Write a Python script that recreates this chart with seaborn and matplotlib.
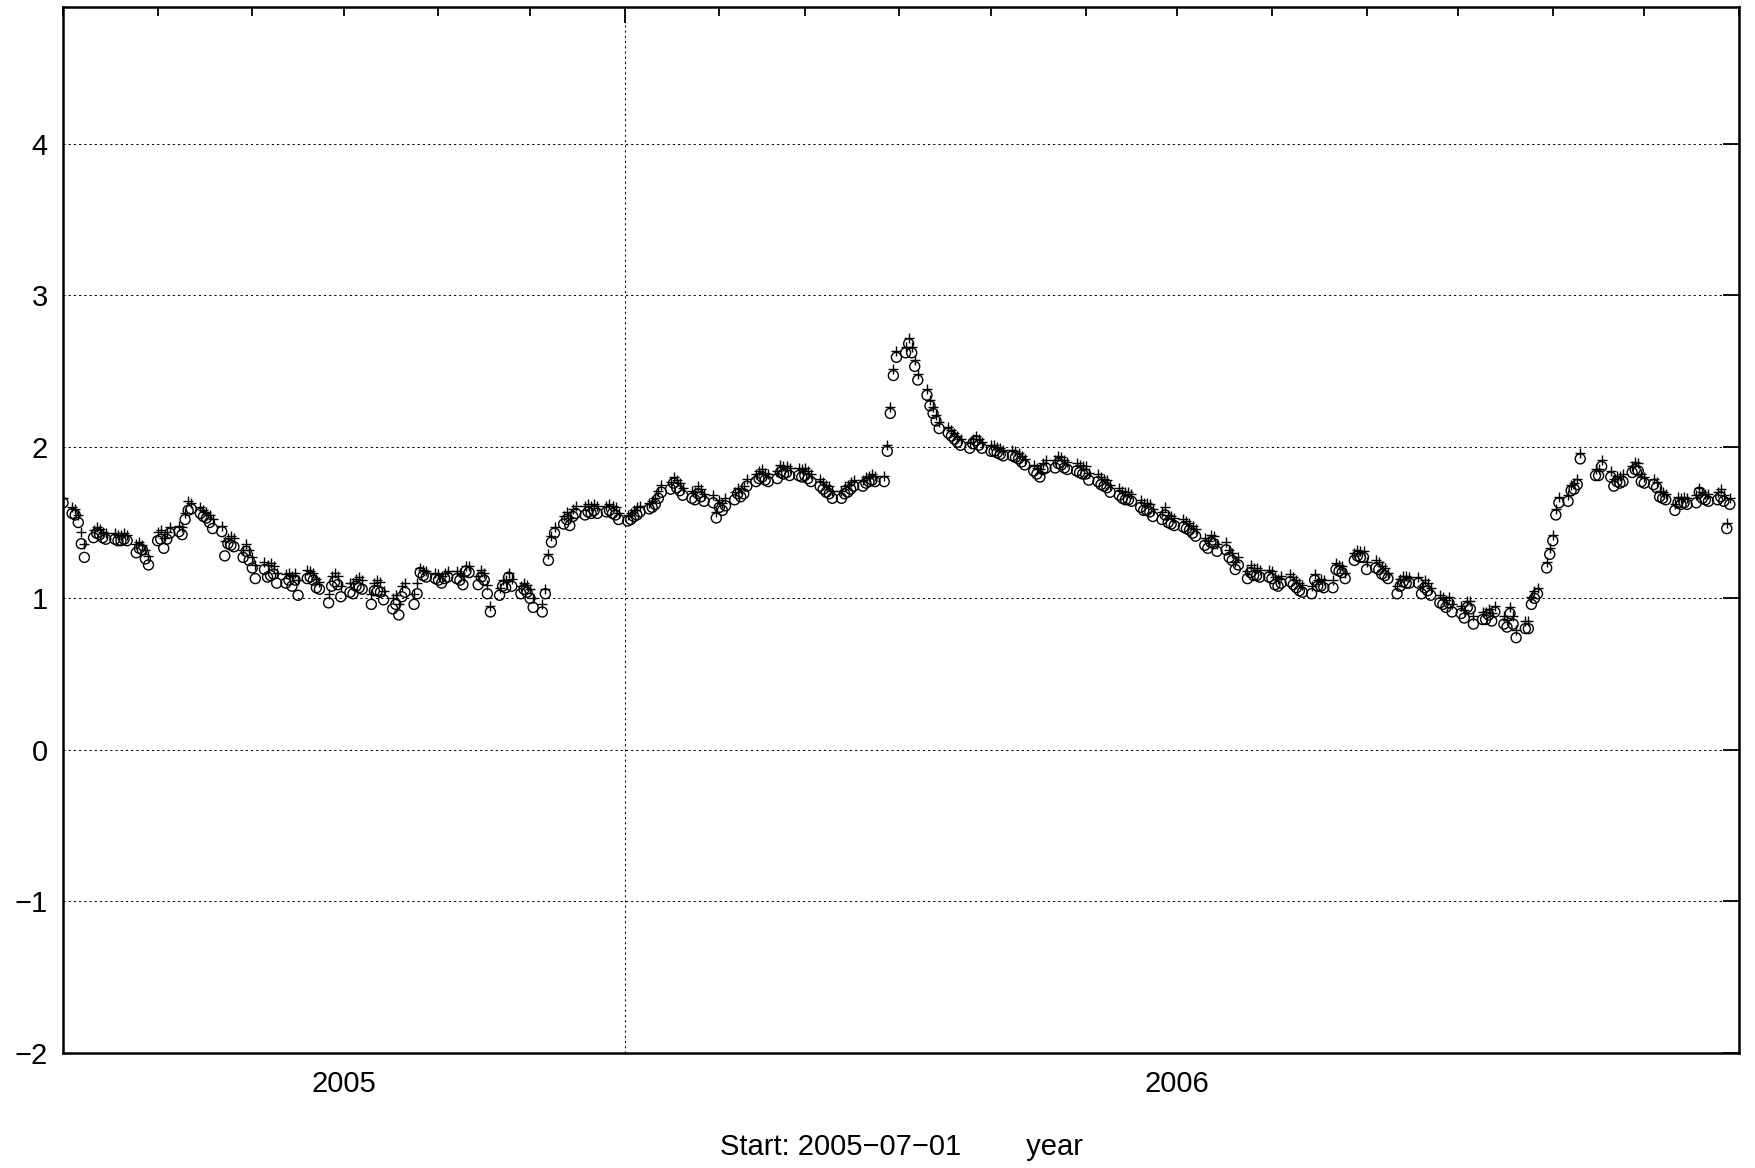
import numpy as np
import pandas as pd
import matplotlib
matplotlib.use("Agg")
import matplotlib.pyplot as plt
import matplotlib.dates as mdates
from matplotlib.ticker import FixedLocator, FuncFormatter, NullFormatter
import seaborn as sns

# ---------------- data ----------------
start_date = "2005-07-01"
end_date = "2006-12-29"
x_start = "2005-07-01"
x_end = "2007-01-01"
year_boundary = "2006-01-01"
year_labels = ["2005", "2006"]
year_label_dates = ["2005-10-01", "2006-07-01"]
y_ticks = [-2, -1, 0, 1, 2, 3, 4]
y_limits = (-2, 4.9)
xlabel_text = "Start: 2005\u221207\u221201        year"

nan = np.nan
# one business-day value per entry (first entry: Fri 2005-07-01, then Mon..Fri per row)
circle_values = [
    1.63,
    1.56, 1.55, 1.50, 1.36, 1.27,
    1.40, 1.43, 1.42, 1.40, 1.39,
    1.39, 1.38, 1.38, 1.39, 1.38,
    1.30, 1.33, 1.32, 1.26, 1.22,
    1.38, 1.39, 1.33, 1.39, 1.43,
    1.44, 1.42, 1.52, 1.58, 1.59,
    1.56, 1.54, 1.53, 1.50, 1.46,
    1.44, 1.28, 1.36, 1.35, 1.34,
    1.27, 1.31, 1.25, 1.20, 1.13,
    1.19, 1.14, 1.15, 1.16, 1.10,
    1.10, 1.12, 1.08, 1.12, 1.02,
    1.13, 1.14, 1.12, 1.07, 1.06,
    0.97, 1.08, 1.11, 1.09, 1.01,
    1.04, 1.03, 1.08, 1.07, 1.06,
    0.96, 1.05, 1.05, 1.04, 0.99,
    0.93, 0.96, 0.89, 1.01, 1.04,
    0.96, 1.03, 1.17, 1.15, 1.14,
    1.13, 1.12, 1.10, 1.13, 1.14,
    1.13, 1.12, 1.09, 1.18, 1.17,
    1.09, 1.14, 1.12, 1.03, 0.91,
    1.02, 1.08, 1.07, 1.14, 1.08,
    1.03, 1.06, 1.04, 1.00, 0.94,
    0.91, 1.03, 1.25, 1.37, 1.43,
    1.49, 1.52, 1.48, 1.54, 1.56,
    1.55, 1.57, 1.56, 1.58, 1.56,
    1.57, 1.58, 1.56, 1.55, 1.52,
    1.51, 1.52, 1.54, 1.55, 1.57,
    1.59, 1.60, 1.62, 1.66, 1.70,
    1.72, 1.76, 1.73, 1.71, 1.68,
    1.66, 1.65, 1.69, 1.67, 1.64,
    1.63, 1.53, 1.60, 1.58, 1.61,
    1.65, 1.69, 1.67, 1.69, 1.74,
    1.77, 1.79, 1.80, 1.78, 1.77,
    1.79, 1.83, 1.82, 1.83, 1.81,
    1.81, 1.80, 1.81, 1.79, 1.77,
    1.74, 1.72, 1.70, 1.69, 1.66,
    1.66, 1.69, 1.70, 1.72, 1.74,
    1.74, 1.76, 1.77, 1.78, 1.77,
    1.77, 1.97, 2.22, 2.47, 2.59,
    2.62, 2.68, 2.62, 2.53, 2.44,
    2.34, 2.27, 2.22, 2.17, 2.12,
    2.09, 2.07, 2.05, 2.03, 2.01,
    1.99, 2.02, 2.04, 2.01, 1.99,
    1.97, 1.97, 1.96, 1.95, 1.94,
    1.94, 1.93, 1.92, 1.90, 1.88,
    1.84, 1.82, 1.80, 1.85, 1.86,
    1.86, 1.89, 1.88, 1.86, 1.85,
    1.84, 1.83, 1.82, 1.82, 1.78,
    1.77, 1.75, 1.74, 1.73, 1.70,
    1.68, 1.66, 1.65, 1.65, 1.64,
    1.60, 1.58, 1.58, 1.57, 1.54,
    1.52, 1.55, 1.50, 1.49, 1.48,
    1.47, 1.46, 1.45, 1.43, 1.41,
    1.35, 1.33, 1.37, 1.36, 1.31,
    1.32, 1.27, 1.25, 1.19, 1.22,
    1.13, 1.17, 1.15, 1.15, 1.14,
    1.14, 1.13, 1.09, 1.08, 1.10,
    1.11, 1.09, 1.07, 1.05, 1.04,
    1.03, 1.12, 1.08, 1.08, 1.07,
    1.07, 1.19, 1.18, 1.17, 1.13,
    1.25, 1.28, 1.27, 1.27, 1.19,
    1.20, 1.19, 1.16, 1.15, 1.13,
    1.03, 1.08, 1.11, 1.10, 1.10,
    1.10, 1.03, 1.07, 1.05, 1.02,
    0.97, 0.96, 0.94, 0.97, 0.91,
    0.90, 0.87, 0.94, 0.93, 0.83,
    0.86, 0.86, 0.89, 0.85, 0.91,
    0.83, 0.81, 0.90, 0.83, 0.74,
    0.80, 0.80, 0.96, 1.00, 1.03,
    1.20, 1.29, 1.38, 1.55, 1.63,
    1.64, 1.71, 1.72, 1.75, 1.92,
    nan, nan, 1.81, 1.81, 1.87,
    1.80, 1.74, 1.77, 1.76, 1.77,
    1.83, 1.85, 1.84, 1.77, 1.76,
    1.75, 1.73, 1.67, 1.66, 1.65,
    1.58, 1.63, 1.62, 1.63, 1.62,
    1.63, 1.70, 1.66, 1.65, 1.64,
    1.65, 1.67, 1.64, 1.46, 1.62,
]

plus_values = [
    1.66,
    1.60, 1.59, 1.55, 1.44, 1.36,
    1.45, 1.47, 1.46, 1.44, 1.43,
    1.43, 1.42, 1.42, 1.43, 1.42,
    1.36, 1.37, 1.35, 1.32, 1.28,
    1.44, 1.45, 1.40, 1.44, 1.47,
    1.48, 1.47, 1.56, 1.64, 1.63,
    1.60, 1.58, 1.57, 1.55, 1.52,
    1.48, 1.38, 1.40, 1.41, 1.40,
    1.32, 1.36, 1.32, 1.27, 1.22,
    1.24, 1.22, 1.23, 1.21, 1.17,
    1.16, 1.17, 1.15, 1.17, 1.12,
    1.19, 1.18, 1.17, 1.13, 1.11,
    1.03, 1.15, 1.17, 1.15, 1.08,
    1.10, 1.10, 1.13, 1.14, 1.12,
    1.03, 1.10, 1.12, 1.11, 1.05,
    1.00, 1.02, 0.96, 1.08, 1.10,
    1.03, 1.10, 1.20, 1.19, 1.18,
    1.17, 1.16, 1.15, 1.17, 1.18,
    1.18, 1.17, 1.15, 1.21, 1.21,
    1.15, 1.19, 1.17, 1.09, 0.95,
    1.07, 1.12, 1.12, 1.17, 1.13,
    1.08, 1.10, 1.09, 1.06, 1.00,
    0.96, 1.06, 1.29, 1.41, 1.47,
    1.54, 1.57, 1.53, 1.59, 1.61,
    1.61, 1.62, 1.61, 1.62, 1.61,
    1.61, 1.62, 1.61, 1.60, 1.56,
    1.55, 1.56, 1.58, 1.60, 1.61,
    1.63, 1.64, 1.66, 1.71, 1.75,
    1.77, 1.80, 1.78, 1.76, 1.73,
    1.71, 1.70, 1.74, 1.72, 1.69,
    1.68, 1.57, 1.65, 1.63, 1.66,
    1.70, 1.73, 1.72, 1.74, 1.79,
    1.82, 1.84, 1.85, 1.83, 1.82,
    1.84, 1.88, 1.87, 1.87, 1.86,
    1.86, 1.85, 1.86, 1.84, 1.82,
    1.79, 1.77, 1.75, 1.74, 1.71,
    1.71, 1.74, 1.75, 1.77, 1.78,
    1.78, 1.80, 1.81, 1.82, 1.81,
    1.81, 2.01, 2.26, 2.51, 2.63,
    2.66, 2.72, 2.66, 2.57, 2.48,
    2.38, 2.31, 2.26, 2.21, 2.16,
    2.13, 2.11, 2.09, 2.07, 2.05,
    2.03, 2.05, 2.07, 2.05, 2.03,
    2.01, 2.01, 2.00, 1.99, 1.98,
    1.98, 1.97, 1.96, 1.94, 1.92,
    1.88, 1.86, 1.85, 1.89, 1.91,
    1.91, 1.94, 1.93, 1.91, 1.90,
    1.89, 1.88, 1.87, 1.87, 1.83,
    1.82, 1.80, 1.79, 1.78, 1.75,
    1.73, 1.71, 1.70, 1.70, 1.69,
    1.65, 1.63, 1.63, 1.62, 1.59,
    1.57, 1.60, 1.55, 1.54, 1.53,
    1.52, 1.51, 1.50, 1.48, 1.46,
    1.40, 1.38, 1.42, 1.41, 1.36,
    1.37, 1.32, 1.30, 1.24, 1.27,
    1.18, 1.22, 1.20, 1.20, 1.19,
    1.19, 1.18, 1.14, 1.13, 1.15,
    1.16, 1.14, 1.12, 1.10, 1.09,
    1.08, 1.16, 1.12, 1.13, 1.12,
    1.12, 1.23, 1.22, 1.21, 1.17,
    1.30, 1.32, 1.31, 1.31, 1.24,
    1.25, 1.24, 1.21, 1.20, 1.17,
    1.08, 1.13, 1.15, 1.15, 1.14,
    1.14, 1.08, 1.12, 1.10, 1.07,
    1.02, 1.01, 0.99, 1.01, 0.96,
    0.95, 0.92, 0.98, 0.98, 0.88,
    0.91, 0.91, 0.93, 0.90, 0.95,
    0.88, 0.86, 0.94, 0.88, 0.79,
    0.85, 0.85, 1.01, 1.05, 1.07,
    1.24, 1.33, 1.42, 1.59, 1.67,
    1.68, 1.75, 1.76, 1.79, 1.96,
    nan, nan, 1.85, 1.85, 1.91,
    1.84, 1.79, 1.81, 1.81, 1.82,
    1.87, 1.90, 1.89, 1.82, 1.80,
    1.79, 1.77, 1.71, 1.70, 1.69,
    1.62, 1.67, 1.66, 1.67, 1.66,
    1.68, 1.73, 1.70, 1.69, 1.69,
    1.70, 1.72, 1.68, 1.50, 1.66,
]

dates = pd.bdate_range(start_date, end_date)
df = pd.DataFrame({"date": dates, "circle": circle_values, "plus": plus_values})

# ---------------- style ----------------
sns.set_style("white")
plt.rcParams["font.family"] = ["Liberation Sans", "DejaVu Sans"]
plt.rcParams["axes.unicode_minus"] = True
FS = 21

W, H = 1755, 1168
fig = plt.figure(figsize=(W / 100, H / 100), dpi=100)
left, right, top, bottom = 63, 1739, 7.2, 1053
ax = fig.add_axes([left / W, 1 - bottom / H, (right - left) / W, (bottom - top) / H])

sns.scatterplot(data=df, x="date", y="circle", marker="o", s=52,
                facecolors="none", edgecolor="black", linewidth=1.0,
                ax=ax, legend=False, zorder=3)
sns.scatterplot(data=df, x="date", y="plus", marker="+", s=52,
                color="black", linewidth=1.0, ax=ax, legend=False, zorder=3)
for coll in ax.collections[:1]:
    coll.set_facecolor("none")

ax.set_xlim(pd.Timestamp(x_start), pd.Timestamp(x_end))
ax.set_ylim(*y_limits)
ax.set_yticks(y_ticks)
ax.yaxis.set_major_formatter(FuncFormatter(lambda v, p: f"{int(round(v))}".replace("-", "\u2212")))

# x ticks: monthly minor ticks, major tick (with grid line) at the year boundary
ax.xaxis.set_major_locator(FixedLocator([mdates.date2num(pd.Timestamp(year_boundary))]))
ax.xaxis.set_major_formatter(NullFormatter())
ax.xaxis.set_minor_locator(mdates.MonthLocator())
label_map = {pd.Timestamp(d).date(): l for d, l in zip(year_label_dates, year_labels)}

def minor_fmt(v, p):
    d = mdates.num2date(v).date()
    return label_map.get(d, "")

ax.xaxis.set_minor_formatter(FuncFormatter(minor_fmt))

grid_kw = dict(color="black", linestyle=(0, (2, 3)), linewidth=0.75)
ax.grid(False)
ax.yaxis.grid(True, which="major", **grid_kw)
ax.xaxis.grid(True, which="major", **grid_kw)

ax.tick_params(axis="both", which="both", direction="in", top=True, right=True,
               color="black", labelcolor="black", labelsize=FS)
ax.tick_params(axis="y", which="major", length=11.5, width=1.3, pad=11)
ax.tick_params(axis="x", which="major", length=11.5, width=1.3)
ax.tick_params(axis="x", which="minor", length=6.5, width=1.3, pad=12)

for sp in ax.spines.values():
    sp.set_visible(True)
    sp.set_color("black")
    sp.set_linewidth(1.8)

ax.set_xlabel("")
ax.set_ylabel("")
fig.text((left + right) / 2 / W, 1 - 1147 / H, xlabel_text, ha="center", va="center",
         fontsize=FS, color="black")

fig.savefig("out.png", dpi=100, facecolor="white")
